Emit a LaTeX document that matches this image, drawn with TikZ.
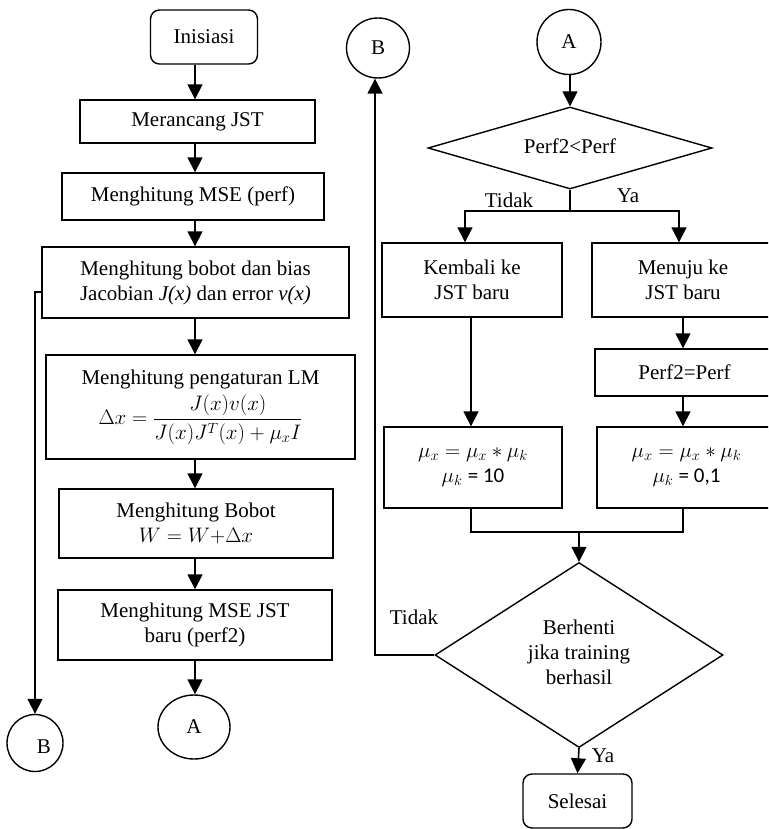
\RequirePackage{fix-cm}
\documentclass[tikz,border=0pt]{standalone}
\usepackage{amsmath}
\usepackage{fontspec}
\setmainfont{Liberation Serif}
\newfontfamily\calfont{Carlito}
\usetikzlibrary{shapes.geometric,arrows.meta}
% zero-size wrapper so that diamonds keep their given dimensions
\newcommand{\zb}[1]{\smash{\makebox[0pt]{#1}}}

\begin{document}
\begin{tikzpicture}[x=1pt,y=-1pt,
  font=\fontsize{21}{25}\selectfont,
  line width=1.4pt,
  box/.style={draw, rectangle, inner sep=2pt, align=center},
  term/.style={draw, rectangle, rounded corners=9pt, inner sep=0},
  conn/.style={draw, ellipse, inner sep=0},
  dec/.style={draw, diamond, inner sep=0},
  arr/.style={-{Triangle[width=15pt,length=15pt]}, line width=1.6pt},
  lbl/.style={inner sep=0}]

\useasboundingbox (0,0) rectangle (768,829);
\clip (0,0) rectangle (768,829);

% ---------------- left column ----------------
\node[term, minimum width=107pt, minimum height=54pt] (init) at (204,37) {Inisiasi};
\node[box, minimum width=235pt, minimum height=43pt] (m1) at (197.5,121.5) {Merancang JST};
\node[box, minimum width=262pt, minimum height=47pt] (m2) at (193,196.5) {Menghitung MSE (perf)};
\node[box, minimum width=307pt, minimum height=71pt] (m3) at (195.5,282.5)
  {Menghitung bobot dan bias\\ Jacobian \textit{J(x)} dan error \textit{v(x)}};
\node[box, minimum width=309pt, minimum height=104pt] (m4) at (200.5,407)
  {Menghitung pengaturan LM\\[5pt] $\Delta x = \dfrac{J(x)v(x)}{J(x)J^{T}(x)+\mu_x I}$};
\node[box, minimum width=274pt, minimum height=69pt] (m5) at (196,523.5)
  {Menghitung Bobot\\ $W = W{+}\Delta x$};
\node[box, minimum width=274pt, minimum height=70pt] (m6) at (195,625)
  {Menghitung MSE JST\\ baru (perf2)};
\node[conn, minimum width=72pt, minimum height=64pt] (al) at (194,727) {A};
\node[conn, minimum width=56pt, minimum height=57pt] (bl) at (35,743) {};
\node[lbl] (blt) at (44,747) {B};

\coordinate (cl) at (195,0);
\draw[arr] (init.south -| cl) -- (m1.north -| cl);
\draw[arr] (m1.south -| cl) -- (m2.north -| cl);
\draw[arr] (m2.south -| cl) -- (m3.north -| cl);
\draw[arr] (m3.south -| cl) -- (m4.north -| cl);
\draw[arr] (m4.south -| cl) -- (m5.north -| cl);
\draw[arr] (m5.south -| cl) -- (m6.north -| cl);
\draw[arr] (m6.south -| cl) -- (al.north -| cl);

\coordinate (bt0) at (35,292);
\draw[arr] (m3.west |- bt0) -- (bt0) -- (bl.north);

% ---------------- right column ----------------
\node[conn, minimum width=63pt, minimum height=60pt] (br) at (378,48) {B};
\node[conn, minimum width=64pt, minimum height=65pt] (ar) at (569,42) {A};
\node[dec, minimum width=284pt, minimum height=82pt] (d1) at (570,148)
  {\zb{\raisebox{-6pt}{Perf2<Perf}}};
\node[box, minimum width=180pt, minimum height=74pt] (k1) at (472,280) {Kembali ke\\ JST baru};
\node[box, minimum width=182pt, minimum height=74pt] (y1) at (683,280) {Menuju ke\\ JST baru};
\node[box, minimum width=179pt, minimum height=47pt] (p2) at (684.5,372.5) {Perf2=Perf};
\node[box, minimum width=178pt, minimum height=81pt] (mu1) at (473,467.5)
  {$\mu_x = \mu_x * \mu_k$\\ $\mu_k$ {\calfont = 10}};
\node[box, minimum width=179pt, minimum height=81pt] (mu2) at (686.5,467.5)
  {$\mu_x = \mu_x * \mu_k$\\ $\mu_k$ {\calfont = 0,1}};
\node[dec, minimum width=288pt, minimum height=185pt] (d2) at (579,655)
  {\zb{\raisebox{-5pt}{\begin{tabular}{@{}c@{}}Berhenti\\ jika training\\ berhasil\end{tabular}}}};
\node[term, minimum width=109pt, minimum height=54pt] (sel) at (577.5,801) {Selesai};

\draw[arr] (ar.south -| d1.north) -- (d1.north);

\coordinate (spl) at (465,211);
\coordinate (spr) at (679,211);
\draw[arr] (d1.south) -- (d1.south |- spl) -- (spl) -- (spl |- k1.north);
\draw[arr] (d1.south |- spr) -- (spr) -- (spr |- y1.north);
\node[lbl] (tdk1) at (509,200) {Tidak};
\node[lbl] (ya1) at (628,196) {Ya};

\coordinate (cr) at (683,0);
\coordinate (ck) at (471,0);
\draw[arr] (k1.south -| ck) -- (mu1.north -| ck);
\draw[arr] (y1.south -| cr) -- (p2.north -| cr);
\draw[arr] (p2.south -| cr) -- (mu2.north -| cr);

\coordinate (ml) at (471,532);
\coordinate (mr) at (683,532);
\draw (ml |- mu1.south) -- (ml) -- (mr) -- (mr |- mu2.south);
\draw[arr] (d2.north |- ml) -- (d2.north);

\coordinate (cb) at (375,0);
\draw[arr] (d2.west) -- (d2.west -| cb) -- (br.south -| cb);
\node[lbl] (tdk2) at (414,617) {Tidak};

\draw[arr] (d2.south) -- (sel.north);
\node[lbl] (ya2) at (603,756) {Ya};
\end{tikzpicture}
\end{document}
